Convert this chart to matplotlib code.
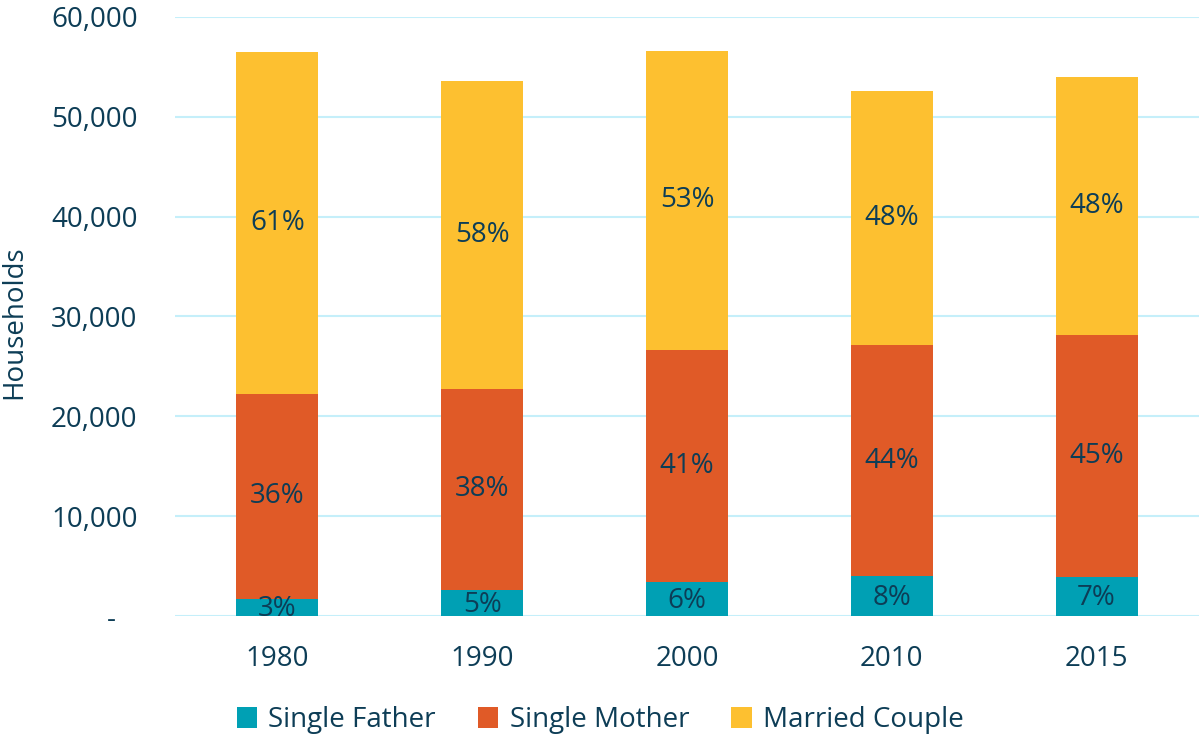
import numpy as np
import matplotlib.pyplot as plt
from matplotlib.ticker import FuncFormatter

years = ['1980', '1990', '2000', '2010', '2015']
single_father = [1700, 2600, 3400, 4000, 3900]
single_mother = [20550, 20150, 23250, 23150, 24250]
married_couple = [34250, 30850, 29950, 25450, 25850]
father_pct = ['3%', '5%', '6%', '8%', '7%']
mother_pct = ['36%', '38%', '41%', '44%', '45%']
married_pct = ['61%', '58%', '53%', '48%', '48%']

c_father = '#00a0b4'
c_mother = '#e05a27'
c_married = '#fdc030'
txt = '#0d3d56'

plt.rcParams['font.family'] = ['Open Sans', 'DejaVu Sans']

fig = plt.figure(figsize=(11.99, 7.36), dpi=100)
ax = fig.add_axes([0.146, 0.163, 0.854, 0.814])

x = np.arange(len(years))
w = 0.4
f = np.array(single_father)
m = np.array(single_mother)
c = np.array(married_couple)

ax.bar(x, f, w, color=c_father, label='Single Father', zorder=3)
ax.bar(x, m, w, bottom=f, color=c_mother, label='Single Mother', zorder=3)
ax.bar(x, c, w, bottom=f + m, color=c_married, label='Married Couple', zorder=3)

fs = 20
for i in range(len(years)):
    ax.text(x[i], f[i] / 2 - 150, father_pct[i], ha='center', va='center', fontsize=fs, color=txt, zorder=4)
    ax.text(x[i], f[i] + m[i] / 2, mother_pct[i], ha='center', va='center', fontsize=fs, color=txt, zorder=4)
    ax.text(x[i], f[i] + m[i] + c[i] / 2, married_pct[i], ha='center', va='center', fontsize=fs, color=txt, zorder=4)

ax.set_xlim(-0.5, len(years) - 0.5)
ax.set_ylim(0, 60000)
ax.set_yticks(np.arange(0, 60001, 10000))
ax.yaxis.set_major_formatter(FuncFormatter(lambda v, p: '-   ' if v == 0 else f'{int(v):,}'))
ax.set_xticks(x)
ax.set_xticklabels(years)
ax.grid(axis='y', color='#c5effa', linewidth=1.5, zorder=0)
for s in ax.spines.values():
    s.set_visible(False)
ax.tick_params(axis='both', length=0, labelsize=fs, labelcolor=txt)
ax.tick_params(axis='y', pad=27)
ax.tick_params(axis='x', pad=21)
ax.set_ylabel('Households', fontsize=fs, color=txt)
ax.yaxis.set_label_coords(-0.143, 0.49)

ax.legend(loc='center', bbox_to_anchor=(0.415, -0.174), ncol=3, frameon=False,
          fontsize=fs, labelcolor=txt, handlelength=0.75, handleheight=0.75,
          handletextpad=0.4, columnspacing=1.5, borderpad=0)

fig.savefig('out.png', dpi=100)
